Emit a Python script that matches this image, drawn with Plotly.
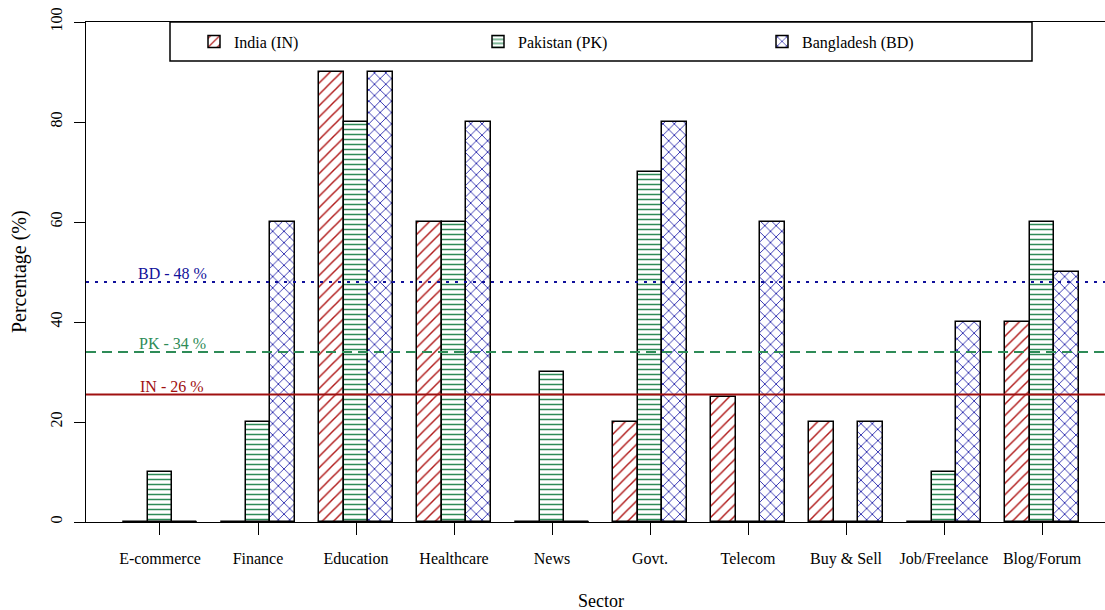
import plotly.graph_objects as go

# Survey results: share of websites per sector (%)
sectors = ["E-commerce", "Finance", "Education", "Healthcare", "News",
           "Govt.", "Telecom", "Buy & Sell", "Job/Freelance", "Blog/Forum"]
india = [0, 0, 90, 60, 0, 20, 25, 20, 0, 40]
pakistan = [10, 20, 80, 60, 30, 70, 0, 0, 10, 60]
bangladesh = [0, 60, 90, 80, 0, 80, 60, 20, 40, 50]

series_names = ["India (IN)", "Pakistan (PK)", "Bangladesh (BD)"]
short_names = ["IN", "PK", "BD"]
y_ticks = [0, 20, 40, 60, 80, 100]

FONT = "Liberation Serif"

# styling per country: hatch colour, hatch shape, hatch spacing, mean-line colour, dash
styles = [
    dict(fg="#B01818", shape="/", size=8, sol=0.18, line="#A01010", dash="solid"),
    dict(fg="#2E8B57", shape="-", size=5, sol=0.3, line="#2E8B57", dash="10px,6px"),
    dict(fg="#1C1CA8", shape="x", size=8, sol=0.2, line="#10109A", dash="3px,6px"),
]

series = [india, pakistan, bangladesh]

# bar layout: 3 bars of unit width per group, one unit gap between groups
group_centers = [2.5 + 4 * i for i in range(len(sectors))]
offsets = [-1, 0, 1]

fig = go.Figure()

zero_x, zero_y = [], []
for vals, name, st, off in zip(series, series_names, styles, offsets):
    xs = [c + off for c in group_centers]
    fig.add_trace(go.Bar(
        x=xs, y=vals, width=1, name=name,
        marker=dict(
            color="white",
            line=dict(color="black", width=1.5),
            pattern=dict(shape=st["shape"], fgcolor=st["fg"], bgcolor="white",
                         size=st["size"], solidity=st["sol"], fgopacity=1),
        ),
    ))
    # zero-height bars appear as a flat outline on the baseline
    for x, v in zip(xs, vals):
        if v == 0:
            zero_x += [x - 0.5, x + 0.5, None]
            zero_y += [0, 0, None]

fig.add_trace(go.Scatter(x=zero_x, y=zero_y, mode="lines",
                         line=dict(color="black", width=2),
                         showlegend=False, hoverinfo="skip"))

# country averages as horizontal reference lines with labels
label_x = 3
for vals, short, st in zip(series, short_names, styles):
    mean = sum(vals) / len(vals)
    fig.add_shape(type="line", xref="paper", x0=0, x1=1, y0=mean, y1=mean,
                  line=dict(color=st["line"], width=2, dash=st["dash"]),
                  layer="above")
    fig.add_annotation(x=label_x, y=mean, text=f"{short} - {round(mean)} %",
                       showarrow=False, yanchor="bottom", yshift=-2,
                       font=dict(family=FONT, size=16, color=st["line"]))

# legend frame
fig.add_shape(type="rect", xref="paper", yref="paper",
              x0=(170 - 86) / 1019, x1=(1032 - 86) / 1019,
              y0=(522 - 61) / 500, y1=1,
              line=dict(color="black", width=1.5), fillcolor="white",
              layer="above")

# axis titles
fig.add_annotation(x=(group_centers[0] + group_centers[-1]) / 2, xref="x",
                   y=-0.158, yref="paper", text="Sector", showarrow=False,
                   yanchor="middle",
                   font=dict(family=FONT, size=18, color="black"))
fig.add_annotation(x=-0.0657, xref="paper", y=0.5, yref="paper",
                   text="Percentage (%)", textangle=-90, showarrow=False,
                   xanchor="center",
                   font=dict(family=FONT, size=20, color="black"))

fig.update_layout(
    width=1105, height=610,
    margin=dict(l=86, r=0, t=22, b=88),
    paper_bgcolor="white", plot_bgcolor="white",
    barmode="overlay", bargap=0,
    font=dict(family=FONT, size=16, color="black"),
    showlegend=True,
    legend=dict(
        orientation="h", x=(194 - 86) / 1019, xanchor="left",
        y=(522 - 41.5) / 500, yanchor="middle", bgcolor="rgba(0,0,0,0)",
        borderwidth=0,
        entrywidth=239, entrywidthmode="pixels",
        font=dict(family=FONT, size=16, color="black"),
        traceorder="normal",
    ),
    xaxis=dict(
        range=[-0.52, 41.07], tickmode="array", tickvals=group_centers,
        ticktext=sectors, ticks="outside", ticklen=12, tickwidth=1,
        tickcolor="black", showline=True, linecolor="black", linewidth=1,
        mirror=True, showgrid=False, zeroline=False, ticklabelstandoff=10,
        tickfont=dict(family=FONT, size=16, color="black"),
    ),
    yaxis=dict(
        range=[0, 100], tickmode="array", tickvals=y_ticks,
        ticks="outside", ticklen=11, tickwidth=1, tickcolor="black",
        showline=True, linecolor="black", linewidth=1,
        showgrid=False, zeroline=False, tickangle=-90, ticklabelstandoff=6,
        tickfont=dict(family=FONT, size=16, color="black"),
    ),
)

fig.write_html("out.html")
